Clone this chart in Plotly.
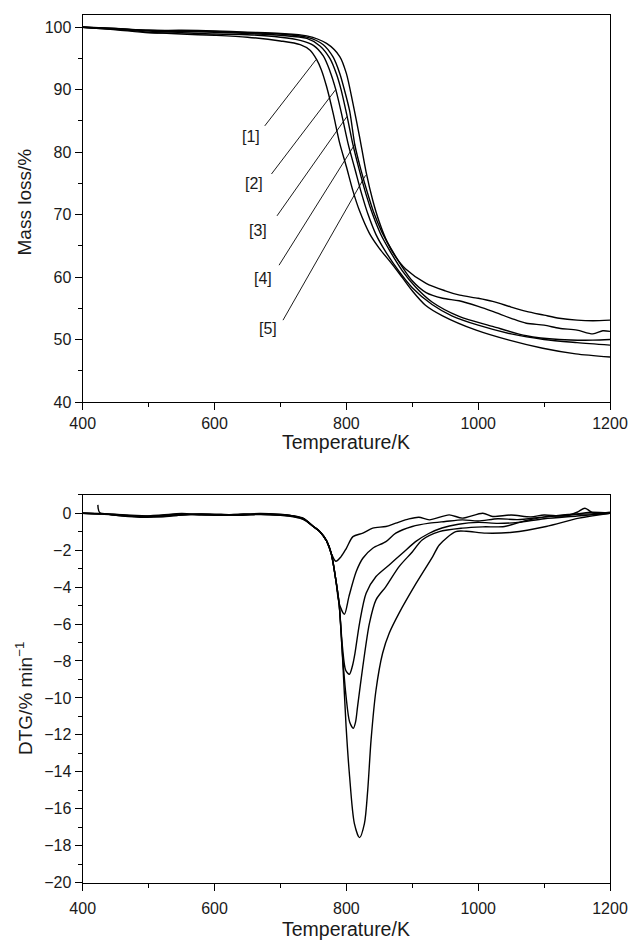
import plotly.graph_objects as go

# ---------------- Mass loss (TG) curves ----------------
m1_T = [400, 450, 500, 550, 600, 650, 700, 730, 745, 755, 762, 770, 780, 790, 800, 810, 820, 835, 850, 870, 885, 900, 920, 946, 997, 1047, 1098, 1148, 1200]
m1_M = [100.0, 99.7, 99.2, 98.9, 98.7, 98.4, 97.8, 97.2, 96.3, 94.8, 93.2, 90.5, 86.2, 81.4, 77.7, 73.8, 70.6, 67.0, 64.6, 62.0, 59.9, 57.8, 55.5, 53.8, 51.5, 49.9, 48.6, 47.7, 47.2]

m2_T = [400, 450, 500, 550, 600, 650, 700, 730, 750, 765, 775, 784, 793, 803, 813, 823, 833, 845, 860, 880, 900, 930, 960, 1000, 1050, 1100, 1150, 1200]
m2_M = [100.0, 99.6, 99.1, 99.1, 98.9, 98.8, 98.4, 97.9, 97.1, 95.4, 93.0, 90.0, 86.0, 81.2, 77.3, 73.4, 70.0, 66.8, 64.0, 60.9, 58.3, 55.6, 53.8, 52.3, 50.9, 50.0, 49.5, 49.1]

m3_T = [400, 450, 500, 550, 600, 650, 700, 740, 760, 775, 785, 792, 801, 810, 820, 830, 840, 852, 866, 885, 905, 930, 971, 1022, 1073, 1123, 1174, 1200]
m3_M = [100.0, 99.8, 99.4, 99.3, 99.2, 99.0, 98.7, 98.2, 97.0, 95.0, 92.5, 90.0, 85.8, 81.2, 77.0, 73.2, 70.0, 66.9, 64.2, 61.0, 58.4, 56.0, 53.7, 52.1, 50.6, 50.0, 49.9, 50.0]

m4_T = [400, 450, 500, 550, 600, 650, 700, 740, 765, 780, 790, 797, 805, 813, 822, 832, 842, 854, 868, 885, 900, 921, 946, 971, 1000, 1022, 1050, 1073, 1100, 1123, 1150, 1174, 1189, 1200]
m4_M = [100.0, 99.7, 99.5, 99.4, 99.3, 99.1, 98.9, 98.4, 97.2, 95.2, 92.6, 90.0, 86.6, 81.1, 77.2, 73.5, 70.2, 67.2, 64.5, 61.6, 59.4, 57.5, 56.6, 56.2, 55.3, 54.5, 53.4, 52.6, 52.3, 51.8, 51.5, 50.9, 51.4, 51.3]

m5_T = [400, 450, 500, 550, 600, 650, 700, 740, 770, 790, 800, 810, 820, 830, 840, 850, 862, 875, 890, 921, 950, 972, 1000, 1022, 1050, 1073, 1100, 1123, 1150, 1174, 1200]
m5_M = [100.0, 99.8, 99.5, 99.5, 99.4, 99.2, 99.0, 98.6, 97.4, 95.3, 92.6, 87.8, 82.5, 76.8, 72.3, 68.8, 65.6, 63.2, 61.3, 59.0, 57.8, 57.1, 56.6, 56.1, 55.2, 54.5, 53.9, 53.4, 53.1, 53.0, 53.1]

# ---------------- DTG curves ----------------
d1_T = [400, 430, 460, 490, 520, 550, 580, 610, 640, 670, 700, 720, 735, 750, 760, 770, 777, 784, 792, 800, 810, 825, 840, 860, 875, 895, 910, 926, 956, 976, 1007, 1022, 1050, 1080, 1100, 1130, 1150, 1162, 1175, 1200]
d1_D = [0.0, -0.02, -0.12, -0.18, -0.15, -0.08, -0.05, -0.1, -0.05, -0.02, -0.08, -0.15, -0.3, -0.72, -1.0, -1.5, -2.17, -2.6, -2.35, -1.9, -1.27, -1.08, -0.81, -0.72, -0.54, -0.31, -0.22, -0.36, -0.09, -0.27, 0.0, -0.18, -0.1, -0.2, -0.1, -0.15, 0.05, 0.27, 0.0, 0.05]

d2_T = [400, 430, 460, 490, 520, 550, 580, 610, 640, 670, 700, 720, 735, 750, 760, 770, 777, 784, 789, 797, 804, 815, 825, 840, 860, 875, 900, 926, 950, 976, 1000, 1030, 1060, 1100, 1140, 1170, 1200]
d2_D = [0.0, -0.05, -0.15, -0.2, -0.12, -0.05, -0.1, -0.08, -0.1, -0.05, -0.1, -0.18, -0.32, -0.72, -1.0, -1.5, -2.17, -3.6, -4.87, -5.47, -4.5, -3.16, -2.44, -1.9, -1.54, -1.08, -0.72, -0.54, -0.45, -0.36, -0.42, -0.3, -0.35, -0.2, -0.1, 0.05, 0.0]

d3_T = [400, 430, 460, 490, 520, 550, 580, 610, 640, 670, 700, 720, 735, 750, 760, 770, 777, 784, 789, 794, 799, 804.6, 809, 813, 820, 830, 845, 865, 885, 905, 925, 945, 970, 1000, 1030, 1060, 1100, 1150, 1200]
d3_D = [0.0, -0.03, -0.1, -0.22, -0.2, -0.1, -0.04, -0.06, -0.12, -0.04, -0.06, -0.16, -0.3, -0.72, -1.0, -1.5, -2.17, -3.6, -4.9, -7.2, -8.5, -8.72, -8.3, -7.6, -5.96, -4.33, -3.43, -2.8, -2.17, -1.54, -1.1, -0.8, -0.6, -0.5, -0.55, -0.5, -0.3, -0.15, 0.0]

d4_T = [400, 430, 460, 490, 520, 550, 580, 610, 640, 670, 700, 720, 735, 750, 760, 770, 777, 784, 789, 794, 799.6, 805, 810.6, 814, 817, 825, 835, 845, 860, 880, 900, 915, 941, 976, 1007, 1040, 1077, 1128, 1160, 1200]
d4_D = [0.0, -0.04, -0.14, -0.16, -0.1, -0.02, -0.08, -0.12, -0.06, -0.08, -0.1, -0.15, -0.28, -0.72, -1.0, -1.5, -2.17, -3.6, -4.9, -7.6, -9.93, -11.3, -11.64, -11.3, -10.47, -8.3, -5.96, -4.69, -3.97, -2.89, -2.1, -1.45, -1.0, -0.81, -0.74, -0.72, -0.36, -0.09, -0.05, 0.0]

d5_T = [423, 426, 460, 490, 520, 550, 580, 610, 640, 670, 700, 720, 735, 750, 760, 770, 777, 784, 789, 794.4, 799.6, 804.6, 812.2, 820, 827.4, 832.4, 837.5, 845, 855, 865, 880, 906, 931, 941, 966, 982, 1012, 1052, 1103, 1153, 1200]
d5_D = [0.45, 0.02, -0.08, -0.14, -0.18, -0.1, -0.06, -0.1, -0.08, -0.06, -0.12, -0.2, -0.35, -0.72, -1.0, -1.5, -2.17, -3.6, -4.9, -7.94, -11.55, -14.1, -16.8, -17.56, -16.8, -15.0, -12.27, -9.57, -7.58, -6.5, -5.41, -3.79, -2.35, -1.72, -1.0, -0.98, -1.08, -1.03, -0.72, -0.27, 0.0]

# ---------------- curve labels with leader lines ----------------
lbl_text = ["[1]", "[2]", "[3]", "[4]", "[5]"]
lbl_T = [656.0, 659.5, 666.0, 673.6, 681.2]
lbl_M = [82.5, 74.9, 67.5, 59.8, 51.8]
lead_T0 = [676.2, 686.4, 694.8, 697.9, 703.9]
lead_M0 = [84.2, 76.5, 69.8, 61.9, 53.1]
lead_T1 = [754.0, 783.8, 800.9, 812.6, 829.2]
lead_M1 = [94.8, 90.0, 85.7, 81.2, 76.3]

x_ticks = [400, 600, 800, 1000, 1200]
m_ticks = [40, 50, 60, 70, 80, 90, 100]
d_ticks = [0, -2, -4, -6, -8, -10, -12, -14, -16, -18, -20]

x_title = "Temperature/K"
m_title = "Mass loss/%"
d_title = "DTG/% min<sup>−1</sup>"

FONT = "Liberation Sans, Arial, Helvetica, sans-serif"
INK = "#1a1a1a"
LINE = dict(color="black", width=1.4, shape="spline", smoothing=0.8)

fig = go.Figure()
for T, M in [(m1_T, m1_M), (m2_T, m2_M), (m3_T, m3_M), (m4_T, m4_M), (m5_T, m5_M)]:
    fig.add_trace(go.Scatter(x=T, y=M, mode="lines", line=LINE, xaxis="x", yaxis="y", showlegend=False))
for T, D in [(d1_T, d1_D), (d2_T, d2_D), (d3_T, d3_D), (d4_T, d4_D), (d5_T, d5_D)]:
    fig.add_trace(go.Scatter(x=T, y=D, mode="lines", line=LINE, xaxis="x2", yaxis="y2", showlegend=False))

for i in range(5):
    fig.add_shape(type="line", xref="x", yref="y", x0=lead_T0[i], y0=lead_M0[i], x1=lead_T1[i], y1=lead_M1[i],
                  line=dict(color="black", width=0.9))
    fig.add_annotation(x=lbl_T[i], y=lbl_M[i], xref="x", yref="y", text=lbl_text[i], showarrow=False,
                       font=dict(family=FONT, size=16, color=INK))

XD = [82.7 / 632, 610.0 / 632]
Y1 = [1 - 402.0 / 940, 1 - 14.7 / 940]
Y2 = [1 - 882.7 / 940, 1 - 494.7 / 940]

tickfont = dict(family=FONT, size=16, color=INK)

# axis titles as paper annotations (precise placement)
xtf = dict(family=FONT, size=19.5, color=INK)
ytf = dict(family=FONT, size=19, color=INK)
fig.add_annotation(x=346.0 / 632, y=1 - 442.0 / 940, xref="paper", yref="paper", text=x_title,
                   showarrow=False, font=xtf, xanchor="center", yanchor="middle")
fig.add_annotation(x=346.0 / 632, y=1 - 928.5 / 940, xref="paper", yref="paper", text=x_title,
                   showarrow=False, font=xtf, xanchor="center", yanchor="middle")
fig.add_annotation(x=24.0 / 632, y=1 - 202.5 / 940, xref="paper", yref="paper", text=m_title,
                   showarrow=False, font=ytf, textangle=-90, xanchor="center", yanchor="middle")
fig.add_annotation(x=24.0 / 632, y=1 - 699.0 / 940, xref="paper", yref="paper", text=d_title,
                   showarrow=False, font=ytf, textangle=-90, xanchor="center", yanchor="middle")

def main_axis(**kw):
    d = dict(showline=True, linecolor="black", linewidth=1.3, mirror=True, showgrid=False, zeroline=False,
             automargin=False,
             ticks="outside", ticklen=7, tickwidth=1.2, tickcolor="black", tickfont=tickfont,
             minor=dict(ticks="outside", ticklen=4, tickwidth=1.2, tickcolor="black", showgrid=False))
    d.update(kw)
    return d

def mirror_axis(**kw):
    d = dict(showline=False, showgrid=False, zeroline=False, showticklabels=False, automargin=False,
             ticks="inside", ticklen=7, tickwidth=1.2, tickcolor="black",
             minor=dict(ticks="inside", ticklen=4, tickwidth=1.2, tickcolor="black", showgrid=False))
    d.update(kw)
    return d

fig.update_layout(
    template="none",
    width=632, height=940, margin=dict(l=0, r=0, t=0, b=0, pad=0),
    paper_bgcolor="white", plot_bgcolor="white",
    font=dict(family=FONT, color=INK),
    xaxis=main_axis(domain=XD, anchor="y", range=[400, 1200], tickvals=x_ticks,
                    minor_dtick=100, minor_tick0=400),
    yaxis=main_axis(domain=Y1, anchor="x", range=[40, 102], tickvals=m_ticks,
                    minor_dtick=5, minor_tick0=40),
    xaxis3=mirror_axis(overlaying="x", anchor="y", side="top", range=[400, 1200], tickvals=x_ticks,
                       minor_dtick=100, minor_tick0=400),
    yaxis3=mirror_axis(overlaying="y", anchor="x", side="right", range=[40, 102], tickvals=m_ticks,
                       minor_dtick=5, minor_tick0=40),
    xaxis2=main_axis(domain=XD, anchor="y2", range=[400, 1200], tickvals=x_ticks,
                     minor_dtick=100, minor_tick0=400, ticklabelstandoff=4),
    yaxis2=main_axis(domain=Y2, anchor="x2", range=[-20, 1], tickvals=d_ticks,
                     minor_dtick=1, minor_tick0=0),
    xaxis4=mirror_axis(overlaying="x2", anchor="y2", side="top", range=[400, 1200], tickvals=x_ticks,
                       minor_dtick=100, minor_tick0=400),
    yaxis4=mirror_axis(overlaying="y2", anchor="x2", side="right", range=[-20, 1], tickvals=d_ticks,
                       minor_dtick=1, minor_tick0=0),
)

fig.write_html("out.html")
